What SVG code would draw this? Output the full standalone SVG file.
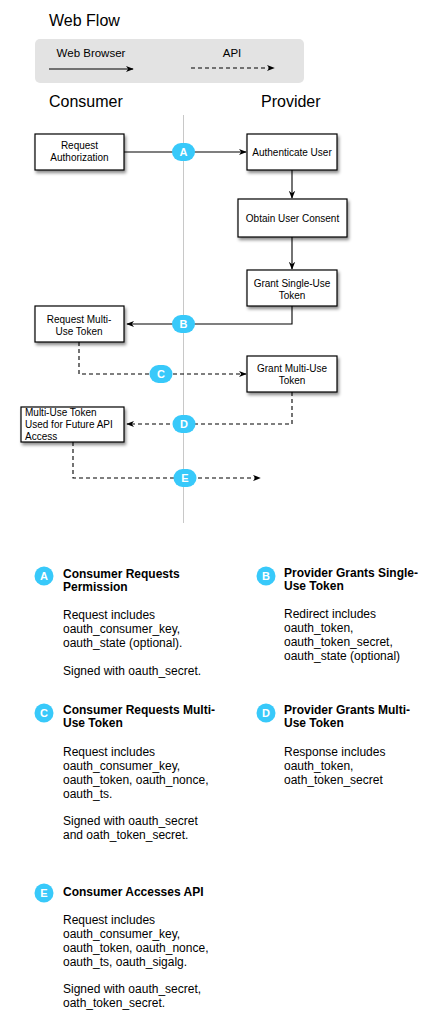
<svg xmlns="http://www.w3.org/2000/svg" width="437" height="1020" viewBox="0 0 437 1020">
<style>
text{font-family:"Liberation Sans",Arial,sans-serif;fill:#000}
.box{fill:#fff;stroke:#000;stroke-width:1.2;filter:url(#sh)}
.bt{font-size:10px;text-anchor:middle}
.btl{font-size:10px}
.ln{fill:none;stroke:#000;stroke-width:1.1}
.dash{stroke-dasharray:4 3}
.pill{fill:#38c9fa}
.pt{font-size:11px;font-weight:bold;fill:#fff;text-anchor:middle}
.h{font-size:12px;font-weight:bold}
.b{font-size:12px}
.title{font-size:16px}
.lg{font-size:11.5px;text-anchor:middle}
</style>
<defs>
<filter id="sh" x="-20%" y="-20%" width="150%" height="160%">
<feDropShadow dx="1.5" dy="2.5" stdDeviation="1.5" flood-color="#000" flood-opacity="0.45"/>
</filter>
<marker id="ar" viewBox="0 0 10 10" refX="9" refY="5" markerWidth="8" markerHeight="8" markerUnits="userSpaceOnUse" orient="auto">
<path d="M0,1 L10,5 L0,9 L3,5 Z" fill="#000"/>
</marker>
</defs>

<g id="header">
<text class="title" x="49" y="26">Web Flow</text>
<rect x="35" y="39" width="269" height="44" rx="5" fill="#e3e3e3"/>
<text class="lg" x="91" y="57">Web Browser</text>
<text class="lg" x="232" y="57">API</text>
<text class="title" x="49" y="107">Consumer</text>
<text class="title" x="261" y="107">Provider</text>
</g>

<g id="divider">
<line x1="183.5" y1="115" x2="183.5" y2="523" stroke="#c8c8c8" stroke-width="1"/>
</g>

<g id="connectors">
<line class="ln" x1="49" y1="69" x2="133" y2="69" marker-end="url(#ar)"/>
<line class="ln dash" x1="191" y1="68" x2="274" y2="68" marker-end="url(#ar)"/>
<line class="ln" x1="124" y1="152" x2="246" y2="152" marker-end="url(#ar)"/>
<line class="ln" x1="292" y1="170" x2="292" y2="198" marker-end="url(#ar)"/>
<line class="ln" x1="292" y1="237" x2="292" y2="269" marker-end="url(#ar)"/>
<path class="ln" d="M292,306 V324 H127" marker-end="url(#ar)"/>
<path class="ln dash" d="M79,342 V374 H246" marker-end="url(#ar)"/>
<path class="ln dash" d="M292,392 V424 H127" marker-end="url(#ar)"/>
<path class="ln dash" d="M73,442 V478 H260" marker-end="url(#ar)"/>
</g>

<g id="badges">
<g id="badge-a"><rect class="pill" x="172" y="143" width="23" height="18" rx="9"/><text class="pt" x="183.5" y="156">A</text></g>
<g id="badge-b"><rect class="pill" x="172" y="315" width="23" height="18" rx="9"/><text class="pt" x="183.5" y="328">B</text></g>
<g id="badge-c"><rect class="pill" x="149.5" y="365" width="23" height="18" rx="9"/><text class="pt" x="161" y="378">C</text></g>
<g id="badge-d"><rect class="pill" x="172.5" y="415" width="23" height="18" rx="9"/><text class="pt" x="184" y="428">D</text></g>
<g id="badge-e"><rect class="pill" x="173.5" y="469" width="23" height="18" rx="9"/><text class="pt" x="185" y="482">E</text></g>
</g>

<g id="request-authorization">
<rect class="box" x="35" y="134" width="89" height="36"/>
<text class="bt" x="79.5" y="149">Request</text>
<text class="bt" x="79.5" y="161">Authorization</text>
</g>
<g id="authenticate-user">
<rect class="box" x="247" y="134" width="90" height="36"/>
<text class="bt" x="292" y="156">Authenticate User</text>
</g>
<g id="obtain-user-consent">
<rect class="box" x="238" y="199" width="109" height="38"/>
<text class="bt" x="292.5" y="222">Obtain User Consent</text>
</g>
<g id="grant-single-use-token">
<rect class="box" x="247" y="270" width="90" height="36"/>
<text class="bt" x="292" y="287">Grant Single-Use</text>
<text class="bt" x="292" y="299">Token</text>
</g>
<g id="request-multi-use-token">
<rect class="box" x="35" y="306" width="89" height="36"/>
<text class="bt" x="79" y="323">Request Multi-</text>
<text class="bt" x="79" y="335">Use Token</text>
</g>
<g id="grant-multi-use-token">
<rect class="box" x="247" y="356" width="90" height="36"/>
<text class="bt" x="292" y="372">Grant Multi-Use</text>
<text class="bt" x="292" y="384">Token</text>
</g>
<g id="multi-use-token-used">
<rect class="box" x="21" y="407" width="103" height="35"/>
<text class="btl" x="25" y="416">Multi-Use Token</text>
<text class="btl" x="25" y="428">Used for Future API</text>
<text class="btl" x="25" y="440">Access</text>
</g>

<g id="legend-a">
<circle class="pill" cx="44" cy="576" r="9.5"/><text class="pt" x="44" y="580">A</text>
<text class="h" x="63" y="578">Consumer Requests</text>
<text class="h" x="63" y="591">Permission</text>
<text class="b" x="63" y="619">Request includes</text>
<text class="b" x="63" y="633">oauth_consumer_key,</text>
<text class="b" x="63" y="647">oauth_state (optional).</text>
<text class="b" x="63" y="675">Signed with oauth_secret.</text>
</g>
<g id="legend-b">
<circle class="pill" cx="266" cy="576" r="9.5"/><text class="pt" x="266" y="580">B</text>
<text class="h" x="284" y="577">Provider Grants Single-</text>
<text class="h" x="284" y="590">Use Token</text>
<text class="b" x="284" y="618">Redirect includes</text>
<text class="b" x="284" y="632">oauth_token,</text>
<text class="b" x="284" y="646">oauth_token_secret,</text>
<text class="b" x="284" y="660">oauth_state (optional)</text>
</g>
<g id="legend-c">
<circle class="pill" cx="44" cy="713" r="9.5"/><text class="pt" x="44" y="717">C</text>
<text class="h" x="63" y="714">Consumer Requests Multi-</text>
<text class="h" x="63" y="727">Use Token</text>
<text class="b" x="63" y="756">Request includes</text>
<text class="b" x="63" y="770">oauth_consumer_key,</text>
<text class="b" x="63" y="784">oauth_token, oauth_nonce,</text>
<text class="b" x="63" y="798">oauth_ts.</text>
<text class="b" x="63" y="825">Signed with oauth_secret</text>
<text class="b" x="63" y="839">and oath_token_secret.</text>
</g>
<g id="legend-d">
<circle class="pill" cx="266" cy="713" r="9.5"/><text class="pt" x="266" y="717">D</text>
<text class="h" x="284" y="714">Provider Grants Multi-</text>
<text class="h" x="284" y="727">Use Token</text>
<text class="b" x="284" y="756">Response includes</text>
<text class="b" x="284" y="770">oauth_token,</text>
<text class="b" x="284" y="784">oath_token_secret</text>
</g>
<g id="legend-e">
<circle class="pill" cx="44" cy="893" r="9.5"/><text class="pt" x="44" y="897">E</text>
<text class="h" x="63" y="896">Consumer Accesses API</text>
<text class="b" x="63" y="924">Request includes</text>
<text class="b" x="63" y="938">oauth_consumer_key,</text>
<text class="b" x="63" y="952">oauth_token, oauth_nonce,</text>
<text class="b" x="63" y="966">oauth_ts, oauth_sigalg.</text>
<text class="b" x="63" y="993">Signed with oauth_secret,</text>
<text class="b" x="63" y="1007">oath_token_secret.</text>
</g>
</svg>
